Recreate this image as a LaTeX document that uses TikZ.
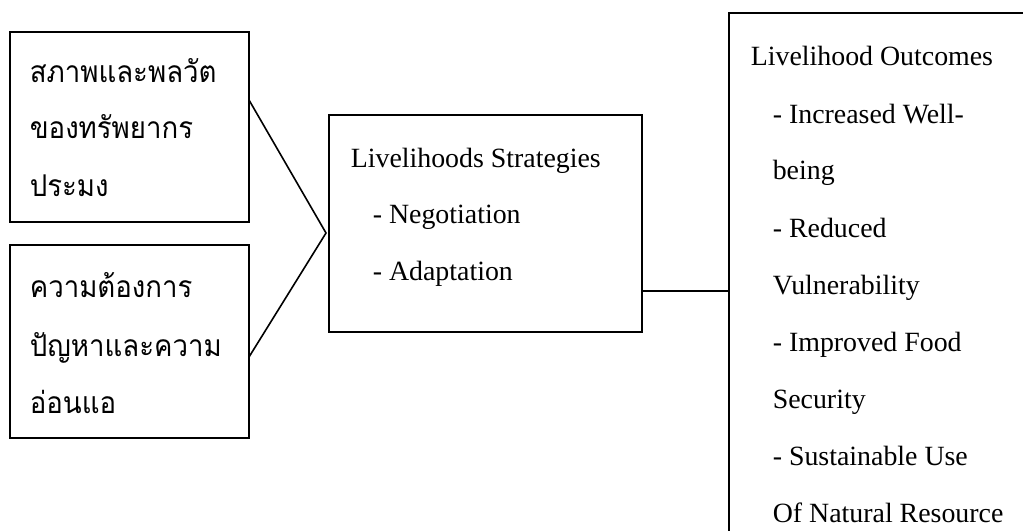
\documentclass[tikz,border=0pt]{standalone}
\usepackage{fontspec}
\setmainfont{Liberation Serif}
\newfontfamily\thaifont[Script=Thai,FakeStretch=0.92]{Loma}
\begin{document}
\begin{tikzpicture}[x=0.75pt,y=-0.75pt,line width=1.2pt,
  box/.style={draw,rectangle,inner sep=0pt,outer sep=0pt},
  txt/.style={anchor=base west,inner sep=0pt,font=\fontsize{20.9}{25}\selectfont},
  th/.style={anchor=base west,inner sep=0pt,font=\thaifont\fontsize{22.5}{27}\selectfont},
  link/.style={draw,line width=1.2pt}]
\useasboundingbox (0,0) rectangle (1023,531);
\clip (0,0) rectangle (1023,531);
% boxes
\node[box,minimum width=179.25pt,minimum height=142.5pt] (b1) at (129.5,127) {};
\node[box,minimum width=179.25pt,minimum height=144.75pt] (b2) at (129.5,341.5) {};
\node[box,minimum width=234.75pt,minimum height=162.75pt] (mid) at (485.5,223.5) {};
\node[box,minimum width=248.25pt,minimum height=417.75pt] (out) at (894.5,291.5) {};
% connectors
\coordinate (J) at (326,233);
\draw[link] ([yshift=20.25pt]b1.east) -- (J) -- ([yshift=-11.625pt]b2.east);
\draw[link] ([yshift=-50.625pt]mid.east) coordinate (m1) -- (m1 -| out.west);
% Thai text
\node[th] (t11) at (29,83) {สภาพและพลวัต};
\node[th] (t12) at (29,139) {ของทรัพยากร};
\node[th] (t13) at (29,196) {ประมง};
\node[th] (t21) at (29,297) {ความต้องการ};
\node[th] (t22) at (29,356) {ปัญหาและความ};
\node[th] (t23) at (29,413) {อ่อนแอ};
% middle text
\node[txt] (s1) at (350,167) {Livelihoods Strategies};
\node[txt] (s2) at (372,223.5) {- Negotiation};
\node[txt] (s3) at (372,280) {- Adaptation};
% outcomes text
\node[txt] (o1) at (750,66) {Livelihood Outcomes};
\node[txt] (o2) at (772,123) {- Increased Well-};
\node[txt] (o3) at (772,180) {being};
\node[txt] (o4) at (772,237) {- Reduced};
\node[txt] (o5) at (772,294) {Vulnerability};
\node[txt] (o6) at (772,351) {- Improved Food};
\node[txt] (o7) at (772,408) {Security};
\node[txt] (o8) at (772,465) {- Sustainable Use};
\node[txt] (o9) at (772,522) {Of Natural Resource};
\end{tikzpicture}
\end{document}
